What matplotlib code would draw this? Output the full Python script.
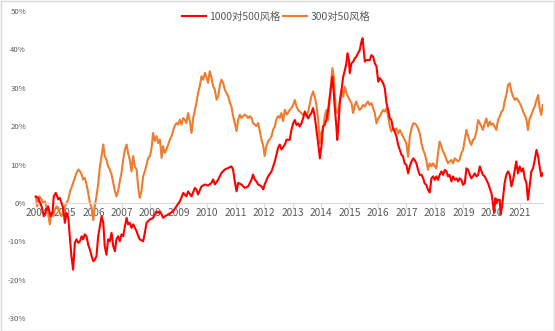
import matplotlib
matplotlib.use("Agg")
import matplotlib.pyplot as plt
from matplotlib.patches import Rectangle

plt.rcParams['font.family'] = ['Noto Sans CJK SC', 'DejaVu Sans']

series_names = ["1000对500风格", "300对50风格"]
year_ticks = list(range(2004, 2022))
y_ticks = [-30, -20, -10, 0, 10, 20, 30, 40, 50]

red_years = [
    2003.98, 2004.06, 2004.18, 2004.26, 2004.33, 2004.41, 2004.50, 2004.57, 2004.61, 2004.68,
    2004.77, 2004.82, 2004.88, 2004.94, 2005.00, 2005.06, 2005.12, 2005.18, 2005.23, 2005.29,
    2005.35, 2005.41, 2005.47, 2005.53, 2005.59, 2005.64, 2005.70, 2005.76, 2005.82, 2005.88,
    2005.94, 2006.00, 2006.05, 2006.11, 2006.17, 2006.23, 2006.29, 2006.35, 2006.40, 2006.46,
    2006.52, 2006.58, 2006.64, 2006.70, 2006.76, 2006.81, 2006.87, 2006.93, 2006.99, 2007.05,
    2007.11, 2007.17, 2007.22, 2007.28, 2007.34, 2007.40, 2007.46, 2007.52, 2007.58, 2007.63,
    2007.75, 2007.81, 2007.87, 2007.99, 2008.10, 2008.16, 2008.22, 2008.28, 2008.34, 2008.40,
    2008.45, 2008.51, 2008.63, 2008.80, 2008.92, 2009.04, 2009.16, 2009.27, 2009.33, 2009.45,
    2009.57, 2009.62, 2009.68, 2009.80, 2009.92, 2010.03, 2010.15, 2010.21, 2010.27, 2010.39,
    2010.50, 2010.62, 2010.74, 2010.85, 2010.91, 2010.97, 2011.03, 2011.09, 2011.20, 2011.32,
    2011.44, 2011.56, 2011.61, 2011.67, 2011.73, 2011.79, 2011.91, 2011.97, 2012.02, 2012.14,
    2012.26, 2012.32, 2012.38, 2012.49, 2012.55, 2012.61, 2012.73, 2012.79, 2012.90, 2012.96,
    2013.02, 2013.08, 2013.14, 2013.20, 2013.25, 2013.31, 2013.37, 2013.43, 2013.49, 2013.55,
    2013.61, 2013.66, 2013.72, 2013.78, 2013.84, 2013.90, 2013.96, 2014.02, 2014.07, 2014.13,
    2014.19, 2014.25, 2014.31, 2014.37, 2014.40, 2014.45, 2014.48, 2014.54, 2014.57, 2014.60,
    2014.64, 2014.66, 2014.72, 2014.78, 2014.84, 2014.89, 2014.93, 2014.98, 2015.01, 2015.07,
    2015.13, 2015.19, 2015.24, 2015.30, 2015.36, 2015.42, 2015.46, 2015.50, 2015.54, 2015.60,
    2015.65, 2015.71, 2015.77, 2015.83, 2015.89, 2015.95, 2016.01, 2016.06, 2016.12, 2016.18,
    2016.24, 2016.30, 2016.36, 2016.42, 2016.47, 2016.53, 2016.59, 2016.65, 2016.71, 2016.77,
    2016.83, 2016.88, 2016.94, 2017.00, 2017.06, 2017.12, 2017.18, 2017.24, 2017.29, 2017.35,
    2017.41, 2017.47, 2017.53, 2017.59, 2017.64, 2017.70, 2017.76, 2017.82, 2017.88, 2017.94,
    2018.00, 2018.05, 2018.11, 2018.17, 2018.23, 2018.29, 2018.35, 2018.41, 2018.46, 2018.52,
    2018.58, 2018.64, 2018.70, 2018.76, 2018.82, 2018.87, 2018.93, 2018.99, 2019.05, 2019.11,
    2019.17, 2019.23, 2019.28, 2019.34, 2019.40, 2019.46, 2019.52, 2019.58, 2019.64, 2019.69,
    2019.75, 2019.81, 2019.87, 2019.93, 2019.99, 2020.04, 2020.08, 2020.13, 2020.17, 2020.22,
    2020.28, 2020.31, 2020.36, 2020.41, 2020.45, 2020.51, 2020.57, 2020.63, 2020.69, 2020.75,
    2020.81, 2020.86, 2020.92, 2020.98, 2021.04, 2021.10, 2021.16, 2021.22, 2021.27, 2021.33,
    2021.39, 2021.45, 2021.51, 2021.57, 2021.63, 2021.68, 2021.74, 2021.79,
]
red_vals = [
    1.6, 1.3, -0.9, -3.5, -2.2, -0.9, -3.5, -2.2, 1.7, 2.6,
    0.9, 1.3, 0.0, -1.3, -5.2, -2.6, -3.9, -9.5, -13.9, -17.4,
    -10.4, -9.5, -10.4, -10.0, -8.7, -9.5, -8.2, -8.7, -10.9, -12.2,
    -13.9, -15.2, -14.8, -13.9, -8.7, -6.1, -3.5, -5.2, -11.3, -13.5,
    -9.5, -10.0, -7.8, -11.3, -12.6, -9.5, -8.7, -10.0, -8.2, -8.7,
    -6.1, -3.9, -5.6, -5.2, -6.5, -5.6, -6.5, -7.4, -8.7, -9.5,
    -10.0, -7.8, -5.2, -4.3, -3.9, -3.0, -2.2, -2.6, -2.2, -3.0,
    -3.9, -3.5, -3.0, -2.2, -0.9, 0.4, 2.6, 1.7, 3.0, 1.7,
    3.9, 3.5, 2.2, 4.3, 4.8, 4.5, 5.2, 6.1, 4.8, 6.1,
    7.8, 8.7, 9.1, 9.5, 8.7, 5.6, 3.0, 5.2, 4.8, 3.9,
    4.3, 6.1, 7.4, 6.1, 5.6, 4.8, 4.3, 3.5, 4.8, 6.9,
    8.2, 9.5, 10.9, 14.3, 15.2, 13.9, 15.2, 16.5, 16.4, 19.0,
    20.7, 21.6, 20.3, 20.7, 19.9, 20.7, 22.0, 23.8, 22.9, 22.0,
    22.9, 23.4, 24.7, 22.5, 19.0, 15.5, 11.6, 15.1, 19.9, 20.3,
    21.6, 24.2, 27.7, 31.2, 32.9, 28.6, 25.1, 19.9, 16.4, 19.0,
    23.4, 26.4, 29.4, 32.9, 34.6, 36.4, 39.0, 37.2, 33.8, 36.4,
    36.8, 37.7, 38.1, 39.0, 39.8, 42.0, 42.9, 39.8, 36.8, 37.2,
    37.2, 37.2, 38.5, 38.1, 36.4, 35.5, 31.6, 32.5, 32.0, 31.2,
    29.9, 26.0, 24.2, 22.0, 21.6, 19.4, 18.6, 17.3, 15.1, 13.8,
    12.5, 12.1, 10.3, 9.9, 7.7, 9.5, 10.8, 11.6, 11.2, 10.3,
    8.6, 7.3, 7.3, 6.4, 5.1, 4.7, 3.4, 2.7, 6.4, 6.9,
    6.0, 6.9, 6.0, 7.3, 8.2, 7.3, 8.6, 8.2, 6.9, 7.3,
    5.6, 6.9, 6.0, 6.4, 5.6, 6.4, 6.0, 4.7, 5.1, 9.0,
    8.6, 7.3, 6.4, 6.9, 7.7, 6.9, 7.3, 9.5, 8.2, 7.3,
    6.9, 6.0, 5.1, 3.8, 2.5, -0.1, -2.5, 1.2, -0.1, 0.8,
    0.8, -3.0, -1.0, 2.5, 5.1, 7.3, 8.2, 7.3, 4.3, 6.0,
    8.6, 10.8, 7.7, 9.5, 8.2, 9.0, 6.4, 5.1, 0.8, 4.3,
    8.2, 9.0, 11.2, 13.8, 12.1, 9.5, 6.9, 7.7,
]

orange_years = [
    2003.98, 2004.03, 2004.10, 2004.18, 2004.24, 2004.30, 2004.36, 2004.41, 2004.47, 2004.53,
    2004.59, 2004.65, 2004.71, 2004.77, 2004.82, 2004.88, 2004.94, 2005.00, 2005.06, 2005.12,
    2005.18, 2005.23, 2005.29, 2005.35, 2005.41, 2005.47, 2005.53, 2005.59, 2005.64, 2005.70,
    2005.76, 2005.82, 2005.88, 2005.94, 2006.00, 2006.05, 2006.11, 2006.17, 2006.23, 2006.29,
    2006.35, 2006.40, 2006.46, 2006.52, 2006.58, 2006.64, 2006.70, 2006.76, 2006.81, 2006.87,
    2006.93, 2006.99, 2007.05, 2007.11, 2007.17, 2007.22, 2007.28, 2007.34, 2007.40, 2007.46,
    2007.52, 2007.58, 2007.63, 2007.69, 2007.75, 2007.81, 2007.87, 2007.93, 2007.99, 2008.04,
    2008.10, 2008.16, 2008.22, 2008.28, 2008.34, 2008.40, 2008.45, 2008.51, 2008.57, 2008.63,
    2008.69, 2008.75, 2008.80, 2008.86, 2008.92, 2008.98, 2009.04, 2009.10, 2009.16, 2009.21,
    2009.27, 2009.33, 2009.39, 2009.45, 2009.51, 2009.57, 2009.62, 2009.68, 2009.74, 2009.80,
    2009.86, 2009.92, 2009.98, 2010.03, 2010.09, 2010.15, 2010.21, 2010.27, 2010.33, 2010.39,
    2010.44, 2010.50, 2010.56, 2010.62, 2010.68, 2010.74, 2010.80, 2010.85, 2010.91, 2010.97,
    2011.03, 2011.09, 2011.15, 2011.20, 2011.26, 2011.32, 2011.38, 2011.44, 2011.50, 2011.56,
    2011.61, 2011.67, 2011.73, 2011.79, 2011.85, 2011.91, 2011.97, 2012.02, 2012.08, 2012.14,
    2012.20, 2012.26, 2012.32, 2012.38, 2012.43, 2012.49, 2012.55, 2012.61, 2012.67, 2012.73,
    2012.79, 2012.90, 2012.96, 2013.02, 2013.08, 2013.14, 2013.20, 2013.25, 2013.31, 2013.37,
    2013.43, 2013.49, 2013.55, 2013.61, 2013.66, 2013.72, 2013.78, 2013.84, 2013.90, 2013.96,
    2014.02, 2014.07, 2014.13, 2014.19, 2014.25, 2014.31, 2014.37, 2014.40, 2014.45, 2014.48,
    2014.52, 2014.57, 2014.60, 2014.66, 2014.72, 2014.78, 2014.84, 2014.89, 2014.95, 2015.01,
    2015.07, 2015.13, 2015.19, 2015.24, 2015.30, 2015.36, 2015.42, 2015.48, 2015.54, 2015.60,
    2015.65, 2015.71, 2015.77, 2015.83, 2015.89, 2015.95, 2016.01, 2016.06, 2016.12, 2016.18,
    2016.24, 2016.30, 2016.36, 2016.42, 2016.47, 2016.53, 2016.59, 2016.65, 2016.71, 2016.77,
    2016.83, 2016.88, 2016.94, 2017.00, 2017.06, 2017.12, 2017.18, 2017.24, 2017.29, 2017.35,
    2017.41, 2017.47, 2017.53, 2017.59, 2017.64, 2017.70, 2017.76, 2017.82, 2017.88, 2017.94,
    2018.00, 2018.05, 2018.11, 2018.17, 2018.23, 2018.29, 2018.35, 2018.41, 2018.46, 2018.52,
    2018.58, 2018.64, 2018.70, 2018.76, 2018.82, 2018.87, 2018.93, 2018.99, 2019.05, 2019.11,
    2019.17, 2019.23, 2019.28, 2019.34, 2019.40, 2019.46, 2019.52, 2019.58, 2019.64, 2019.69,
    2019.75, 2019.81, 2019.87, 2019.93, 2019.99, 2020.04, 2020.10, 2020.16, 2020.22, 2020.28,
    2020.34, 2020.40, 2020.45, 2020.51, 2020.57, 2020.63, 2020.69, 2020.75, 2020.81, 2020.86,
    2020.92, 2020.98, 2021.04, 2021.10, 2021.16, 2021.22, 2021.27, 2021.33, 2021.39, 2021.45,
    2021.51, 2021.57, 2021.63, 2021.68, 2021.74, 2021.79,
]
orange_vals = [
    1.7, -0.9, 1.7, 0.9, 0.0, 0.4, -1.3, -2.6, -5.6, -2.6,
    -3.5, -1.7, -0.9, -1.3, -2.6, -3.5, -2.2, -0.9, 0.0, 0.9,
    3.0, 3.9, 5.2, 6.5, 7.8, 8.7, 8.2, 7.4, 6.1, 6.5,
    4.8, 2.6, 0.0, -1.3, -4.5, -0.9, 1.7, 4.8, 9.5, 12.2,
    15.2, 12.2, 11.3, 9.5, 8.7, 7.4, 5.2, 3.0, 1.7, 3.0,
    5.6, 7.8, 11.3, 13.9, 15.2, 13.0, 11.3, 8.2, 12.2, 9.5,
    8.7, 3.9, 1.3, 3.0, 6.9, 8.2, 10.0, 11.7, 12.2, 13.9,
    18.2, 16.1, 17.4, 15.6, 16.5, 11.7, 14.8, 13.0, 13.9, 15.2,
    16.5, 17.4, 18.7, 20.0, 20.8, 20.4, 21.7, 20.4, 22.1, 21.7,
    20.8, 23.4, 21.3, 18.2, 22.1, 24.3, 26.0, 28.6, 30.4, 33.0,
    32.1, 33.9, 32.6, 31.3, 34.3, 32.6, 30.4, 29.5, 26.9, 27.8,
    30.4, 32.1, 31.3, 29.5, 28.6, 27.8, 26.0, 25.2, 22.6, 20.8,
    18.7, 21.7, 23.0, 22.1, 22.6, 23.0, 22.6, 22.1, 22.6, 22.1,
    20.8, 20.4, 20.0, 20.8, 18.7, 16.5, 14.8, 12.2, 14.8, 16.1,
    16.5, 17.4, 19.1, 20.0, 21.7, 22.6, 22.1, 23.4, 21.3, 24.3,
    23.0, 24.2, 24.7, 25.5, 26.8, 25.1, 24.2, 23.8, 23.4, 22.9,
    23.4, 22.5, 23.8, 26.0, 27.7, 29.0, 27.7, 25.5, 21.6, 15.5,
    18.6, 19.0, 22.5, 24.2, 21.6, 27.7, 32.9, 35.1, 32.9, 28.6,
    24.2, 23.4, 24.2, 26.0, 29.4, 27.7, 30.3, 28.6, 27.7, 26.8,
    26.0, 23.4, 25.5, 26.4, 25.1, 24.2, 24.7, 25.5, 25.1, 26.0,
    26.4, 25.5, 26.0, 24.7, 23.4, 20.7, 22.0, 22.5, 23.4, 24.2,
    23.8, 24.7, 22.5, 19.9, 18.6, 19.4, 19.0, 19.4, 18.1, 19.0,
    18.1, 17.3, 16.4, 15.5, 12.0, 17.3, 19.4, 20.7, 20.7, 20.3,
    19.4, 18.1, 15.5, 13.8, 12.9, 11.2, 8.6, 10.3, 9.5, 10.3,
    9.5, 9.0, 12.9, 16.0, 14.7, 13.4, 12.5, 11.2, 10.3, 10.8,
    11.2, 10.3, 11.6, 11.2, 10.8, 11.2, 12.9, 13.8, 16.4, 19.0,
    17.3, 16.0, 15.1, 16.4, 16.8, 18.6, 21.6, 20.7, 19.9, 19.0,
    20.7, 22.0, 19.9, 21.2, 20.3, 20.7, 19.9, 19.0, 21.6, 22.5,
    23.8, 24.2, 26.4, 28.1, 30.7, 31.2, 29.0, 27.7, 26.8, 27.3,
    26.8, 26.0, 25.1, 23.8, 22.9, 21.6, 19.0, 22.0, 22.9, 24.2,
    25.1, 26.8, 28.1, 24.7, 22.9, 25.5,
]

red_color = "#FF0000"
orange_color = "#ED7D31"
axis_grey = "#D9D9D9"
text_grey = "#595959"

fig = plt.figure(figsize=(5.55, 3.31), dpi=100)
fig.patches.append(Rectangle((0.001, 0.001), 0.997, 0.996, transform=fig.transFigure,
                             fill=False, edgecolor=axis_grey, linewidth=1.0))

ax = fig.add_axes([33 / 555, 1 - 318 / 331, (543 - 33) / 555, (318 - 11) / 331])
ax.set_axisbelow(True)

l1, = ax.plot(red_years, red_vals, color=red_color, lw=1.5, solid_joinstyle='round', zorder=3)
l2, = ax.plot(orange_years, orange_vals, color=orange_color, lw=1.5, solid_joinstyle='round', zorder=2)

ax.set_xlim(2003.88, 2021.80)
ax.set_ylim(-30, 50)

for s in ['top', 'right', 'left']:
    ax.spines[s].set_visible(False)
ax.spines['bottom'].set_position(('data', 0))
ax.spines['bottom'].set_color(axis_grey)
ax.spines['bottom'].set_linewidth(0.9)

ax.set_xticks(year_ticks)
ax.set_xticklabels([str(y) for y in year_ticks])
ax.tick_params(axis='x', direction='out', length=3.5, width=0.8, color=axis_grey,
               labelsize=7.3, labelcolor=text_grey, pad=0.5)
ax.set_yticks(y_ticks)
ax.set_yticklabels([f"{v}%" for v in y_ticks])
ax.tick_params(axis='y', length=0, labelsize=5.6, labelcolor=text_grey, pad=5)

fig.legend([l1, l2], series_names, loc='center', bbox_to_anchor=(276 / 555, 1 - 17 / 331),
           ncol=2, frameon=False, fontsize=7.5, handlelength=2.3, handletextpad=0.3,
           columnspacing=0.3, labelcolor=text_grey)

fig.savefig("out.png", dpi=100)
